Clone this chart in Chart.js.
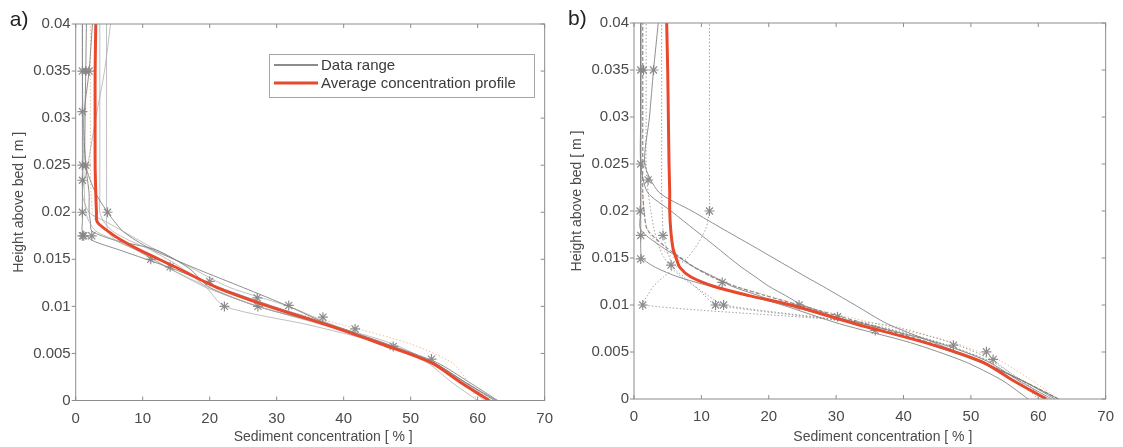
<!DOCTYPE html>
<html>
<head>
<meta charset="utf-8">
<script src="https://cdn.jsdelivr.net/npm/chart.js@4.4.1/dist/chart.umd.min.js"></script>
<style>
  html, body { margin: 0; background: #fff; }
  #wrap { position: relative; width: 1123px; height: 447px; }
  canvas { position: absolute; top: 0; }
  #ca { left: 0; }
  #cb { left: 562px; }
</style>
</head>
<body>
<div id="wrap">
  <canvas id="ca" width="562" height="447"></canvas>
  <canvas id="cb" width="561" height="447"></canvas>
</div>
<script>
// axes
const xTicks = [0, 10, 20, 30, 40, 50, 60, 70];
const yTicks = [0, 0.005, 0.01, 0.015, 0.02, 0.025, 0.03, 0.035, 0.04];
const yTickLabels = ['0', '0.005', '0.01', '0.015', '0.02', '0.025', '0.03', '0.035', '0.04'];
const xTitle = 'Sediment concentration [ % ]';
const yTitle = 'Height above bed [ m ]';
const legendLabels = ['Data range', 'Average concentration profile'];

// panel a) heights [m] and concentrations [%]
const heightsA = [0, 0.002, 0.004, 0.006, 0.008, 0.010, 0.012, 0.014, 0.016, 0.017, 0.018, 0.019, 0.020, 0.022, 0.025, 0.030, 0.035, 0.040];
const avgA = [61.7, 57.3, 53.1, 45.6, 37.6, 28.8, 21.1, 15.4, 9.5, 6.9, 4.8, 3.2, 3.1, 3.0, 2.9, 2.9, 2.9, 3.0];
const a1 = [63.0, 58.6, 54.0, 46.5, 38.3, 29.5, 21.5, 14.5, 6.5, 2.5, 1.0, 1.0, 1.0, 1.0, 1.0, 1.0, 1.0, 1.0];
const a2 = [62.5, 58.0, 53.5, 46.0, 38.0, 31.8, 25.0, 18.0, 11.5, 9.0, 7.0, 5.8, 4.75, 3.0, 1.5, 1.4, 1.5, 1.6];
const a3 = [60.0, 56.0, 52.5, 46.0, 37.0, 27.2, 19.5, 14.1, 9.0, 6.0, 3.0, 2.0, 1.5, 1.3, 1.2, 1.1, 1.0, 1.0];
const a4 = [61.0, 57.5, 53.5, 46.0, 35.0, 22.2, 19.5, 16.0, 11.2, 8.0, 5.5, 4.2, 3.6, 3.6, 3.6, 3.6, 3.6, 3.6];
const a5 = [62.0, 57.5, 53.1, 47.4, 38.0, 27.1, 20.0, 14.0, 9.0, 6.0, 4.8, 4.6, 4.6, 4.6, 4.6, 4.6, 4.6, 4.6];
const a6 = [62.8, 58.0, 53.5, 46.0, 37.5, 27.2, 20.0, 17.0, 12.0, 6.0, 2.4, 2.2, 2.0, 2.0, 1.5, 1.2, 2.0, 2.5];
const a7 = [62.0, 57.8, 53.3, 46.3, 38.5, 31.8, 23.0, 17.5, 12.0, 9.5, 7.0, 4.5, 2.0, 1.0, 1.8, 3.0, 4.3, 5.2];
const a8 = [59.9, 58.5, 56.2, 50.0, 40.0, 29.0, 21.0, 15.0, 9.5, 6.5, 4.5, 3.0, 2.5, 2.3, 2.2, 2.2, 2.2, 2.2];
const starsAx = [1.0, 1.5, 2.0, 1.0, 1.0, 1.5, 1.0, 1.0, 4.75, 1.0, 1.2, 2.4, 11.2, 14.1, 20.0, 22.2, 27.1, 27.2, 31.8, 36.9, 41.7, 47.4, 53.1];
const starsAy = [0.035, 0.035, 0.035, 0.0307, 0.025, 0.025, 0.0234, 0.020, 0.020, 0.0175, 0.0175, 0.0175, 0.015, 0.0142, 0.01266, 0.010, 0.0109, 0.010, 0.0101, 0.00885, 0.0076, 0.00575, 0.0044];

// panel b)
const heightsB = [0, 0.002, 0.004, 0.006, 0.008, 0.010, 0.011, 0.012, 0.013, 0.014, 0.015, 0.016, 0.018, 0.020, 0.022, 0.025, 0.030, 0.035, 0.040];
const avgB = [61.2, 56.2, 51.5, 43.2, 32.8, 23.3, 17.1, 11.8, 8.4, 6.8, 6.25, 5.8, 5.45, 5.3, 5.3, 5.2, 5.1, 5.0, 4.85];
const b1 = [58.5, 54.6, 49.0, 41.0, 30.5, 22.0, 17.0, 11.3, 6.5, 3.2, 1.2, 1.0, 1.0, 1.0, 1.0, 1.0, 1.0, 1.0, 1.0];
const b2 = [62.0, 57.0, 52.5, 45.0, 34.0, 22.5, 18.5, 14.5, 11.8, 9.0, 6.8, 4.5, 1.0, 1.0, 1.0, 1.0, 1.0, 1.0, 1.0];
const b3 = [63.0, 57.5, 51.5, 44.5, 37.6, 32.8, 30.4, 28.0, 25.5, 23.1, 20.7, 18.3, 13.4, 8.6, 3.7, 1.6, 2.3, 2.9, 3.6];
const b4 = [62.5, 57.5, 51.0, 43.0, 33.0, 25.0, 22.5, 20.0, 18.0, 16.0, 14.2, 12.5, 9.0, 5.5, 2.0, 1.0, 1.0, 1.0, 1.0];
const b5 = [63.0, 57.5, 51.5, 43.8, 34.4, 24.5, 19.5, 15.0, 11.5, 9.0, 7.0, 5.0, 2.0, 1.5, 1.3, 1.3, 1.3, 1.3, 1.3];
const b6 = [60.0, 57.0, 53.5, 47.0, 36.4, 1.3, 2.0, 2.9, 4.4, 6.2, 7.9, 9.0, 10.6, 11.2, 11.2, 11.2, 11.2, 11.2, 11.2];
const b7 = [61.0, 57.5, 53.0, 45.0, 34.0, 12.1, 10.5, 9.0, 7.4, 5.8, 5.3, 4.8, 4.3, 4.2, 4.1, 4.1, 4.1, 4.1, 4.1];
const b8 = [61.5, 56.0, 52.5, 45.5, 34.5, 13.3, 11.0, 9.0, 7.0, 5.5, 4.5, 3.8, 3.0, 2.5, 2.1, 1.8, 1.8, 1.8, 1.8];
const b9 = [63.0, 59.0, 54.5, 47.4, 36.0, 24.5, 20.0, 15.0, 12.0, 9.0, 6.0, 4.0, 2.0, 1.5, 1.2, 1.0, 1.0, 1.0, 1.0];
const starsBx = [1.0, 1.4, 2.9, 1.0, 2.1, 0.9, 11.2, 1.0, 4.3, 1.0, 5.5, 13.1, 1.3, 12.1, 13.3, 24.5, 30.2, 35.8, 47.4, 52.3, 53.3];
const starsBy = [0.035, 0.035, 0.035, 0.025, 0.0233, 0.020, 0.020, 0.0174, 0.0174, 0.0149, 0.01425, 0.0124, 0.010, 0.010, 0.010, 0.010, 0.00875, 0.0073, 0.00573, 0.00502, 0.00421];

// line styles
const RED = 'rgb(232, 72, 44)';
const solidDark  = { borderColor: 'rgba(125,125,125,0.85)', borderWidth: 1 };
const solidLight = { borderColor: 'rgba(165,165,165,0.7)', borderWidth: 1 };
const dotted     = { borderColor: 'rgba(140,140,140,0.8)', borderWidth: 1, borderDash: [1.5, 2] };
const dottedOr   = { borderColor: 'rgba(225,165,120,0.7)', borderWidth: 1, borderDash: [1.5, 2] };
const dashed     = { borderColor: 'rgba(125,125,125,0.9)', borderWidth: 1.2, borderDash: [4, 2] };

const FONT = '"Liberation Sans", Arial, sans-serif';
const TXT = '#4a4a4a';

const pts = (xs, ys) => xs.map((x, i) => ({ x, y: ys[i] }));

function grayLine(xs, hs, style) {
  return { label: legendLabels[0], data: pts(xs, hs), showLine: true, pointRadius: 0,
           tension: 0.25, order: 3, ...style };
}

function buildDatasets(hs, avg, profiles, sx, sy) {
  return [
    { label: legendLabels[1], data: pts(avg, hs), showLine: true, pointRadius: 0,
      borderColor: RED, borderWidth: 3, tension: 0.3, order: 0 },
    { label: 'stars', data: pts(sx, sy), showLine: false, pointStyle: 'star',
      pointRadius: 5, borderColor: 'rgba(135,135,135,0.95)', borderWidth: 1.2, order: 1 },
    ...profiles.map(([xs, st]) => grayLine(xs, hs, st)),
  ];
}

// frame, ticks, labels, legend
const framePlugin = {
  id: 'frame',
  afterDraw(chart, args, opts) {
    const { ctx, chartArea: a, scales: { x, y } } = chart;
    ctx.save();
    ctx.strokeStyle = '#8c8c8c';
    ctx.lineWidth = 1;
    ctx.strokeRect(a.left, a.top, a.right - a.left, a.bottom - a.top);
    ctx.beginPath();
    xTicks.forEach(v => {
      const px = x.getPixelForValue(v);
      ctx.moveTo(px, a.bottom); ctx.lineTo(px, a.bottom - 4);
      ctx.moveTo(px, a.top); ctx.lineTo(px, a.top + 4);
    });
    yTicks.forEach(v => {
      const py = y.getPixelForValue(v);
      ctx.moveTo(a.left - 4, py); ctx.lineTo(a.left, py);
      ctx.moveTo(a.right, py); ctx.lineTo(a.right - 4, py);
    });
    ctx.stroke();

    ctx.fillStyle = TXT;
    ctx.font = '14px ' + FONT;
    ctx.textAlign = 'center';
    ctx.textBaseline = 'middle';
    ctx.fillText(xTitle, (a.left + a.right) / 2 + 13, 437);
    ctx.save();
    ctx.translate(a.left - 57, (a.top + a.bottom) / 2 - 10);
    ctx.rotate(-Math.PI / 2);
    ctx.fillText(yTitle, 0, 0);
    ctx.restore();

    ctx.fillStyle = '#222';
    ctx.font = '21px ' + FONT;
    ctx.textAlign = 'left';
    ctx.fillText(opts.label, a.left - 66, a.top - 4);

    if (opts.legend) {
      const L = opts.legend;
      ctx.fillStyle = '#fff';
      ctx.fillRect(L.x, L.y, L.w, L.h);
      ctx.strokeStyle = '#a5a5a5';
      ctx.strokeRect(L.x + 0.5, L.y + 0.5, L.w, L.h);
      const rows = [
        { color: 'rgb(140,140,140)', width: 2 },
        { color: RED, width: 3 },
      ];
      rows.forEach((r, i) => {
        const cy = L.y + 11 + i * 18;
        ctx.strokeStyle = r.color;
        ctx.lineWidth = r.width;
        ctx.beginPath();
        ctx.moveTo(L.x + 5, cy); ctx.lineTo(L.x + 49, cy);
        ctx.stroke();
        ctx.fillStyle = '#3a3a3a';
        ctx.font = '15px ' + FONT;
        ctx.fillText(legendLabels[i], L.x + 52, cy + 1);
      });
    }
    ctx.restore();
  },
};

function makeChart(id, datasets, pad, yWidth, xHeight, frameOpts) {
  return new Chart(document.getElementById(id), {
    type: 'scatter',
    data: { datasets },
    plugins: [framePlugin],
    options: {
      responsive: false,
      animation: false,
      layout: { padding: pad },
      plugins: { legend: { display: false }, tooltip: { enabled: false }, frame: frameOpts },
      scales: {
        x: {
          min: 0, max: 70,
          afterBuildTicks: s => { s.ticks = xTicks.map(v => ({ value: v })); },
          afterFit: s => { s.height = xHeight; },
          grid: { display: false, drawTicks: false },
          border: { display: false },
          ticks: { color: TXT, font: { family: FONT, size: 15 }, padding: 9 },
        },
        y: {
          min: 0, max: 0.04,
          afterBuildTicks: s => { s.ticks = yTicks.map(v => ({ value: v })); },
          afterFit: s => { s.width = yWidth; },
          grid: { display: false, drawTicks: false },
          border: { display: false },
          ticks: { color: TXT, font: { family: FONT, size: 15 }, padding: 5,
                   callback: (v, i) => yTickLabels[i] },
        },
      },
    },
  });
}

makeChart('ca',
  buildDatasets(heightsA, avgA, [
    [a1, solidDark], [a2, solidDark], [a3, solidLight], [a4, solidLight],
    [a5, solidLight], [a6, solidDark], [a7, solidLight], [a8, dottedOr],
  ], starsAx, starsAy),
  { left: 0, right: 11, top: 24, bottom: 0 }, 75.7, 46.5,
  { label: 'a)', legend: { x: 269, y: 54, w: 265, h: 43 } });

makeChart('cb',
  buildDatasets(heightsB, avgB, [
    [b1, solidDark], [b2, solidDark], [b3, solidDark], [b4, solidDark],
    [b5, dashed], [b6, dotted], [b7, dotted], [b8, dotted], [b9, dottedOr],
  ], starsBx, starsBy),
  { left: 0, right: 14.5, top: 23, bottom: 0 }, 72, 48,
  { label: 'b)' });
</script>
</body>
</html>
